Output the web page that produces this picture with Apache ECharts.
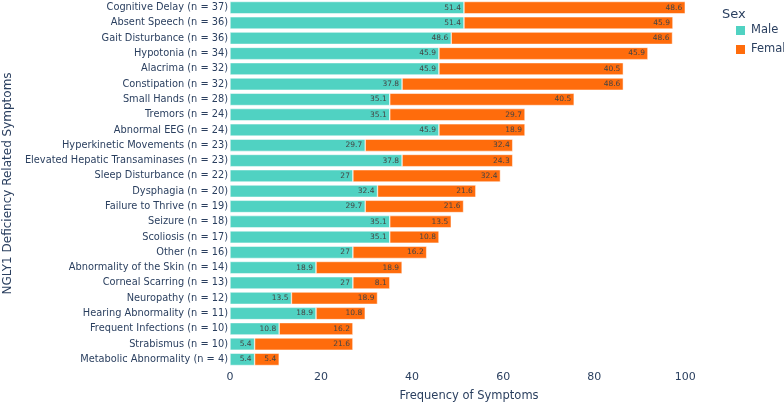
<!DOCTYPE html>
<html>
<head>
<meta charset="utf-8">
<script src="https://cdn.jsdelivr.net/npm/echarts@6/dist/echarts.min.js"></script>
<style>html,body{margin:0;padding:0;background:#fff;}#c{width:784px;height:402px;}</style>
</head>
<body>
<div id="c"></div>
<script>
const categories = [
  "Cognitive Delay (n = 37)", "Absent Speech (n = 36)", "Gait Disturbance (n = 36)",
  "Hypotonia (n = 34)", "Alacrima (n = 32)", "Constipation (n = 32)",
  "Small Hands (n = 28)", "Tremors (n = 24)", "Abnormal EEG (n = 24)",
  "Hyperkinetic Movements (n = 23)", "Elevated Hepatic Transaminases (n = 23)",
  "Sleep Disturbance (n = 22)", "Dysphagia (n = 20)", "Failure to Thrive (n = 19)",
  "Seizure (n = 18)", "Scoliosis (n = 17)", "Other (n = 16)",
  "Abnormality of the Skin (n = 14)", "Corneal Scarring (n = 13)",
  "Neuropathy (n = 12)", "Hearing Abnormality (n = 11)",
  "Frequent Infections (n = 10)", "Strabismus (n = 10)", "Metabolic Abnormality (n = 4)"
];
const male = [51.4, 51.4, 48.6, 45.9, 45.9, 37.8, 35.1, 35.1, 45.9, 29.7, 37.8, 27, 32.4, 29.7, 35.1, 35.1, 27, 18.9, 27, 13.5, 18.9, 10.8, 5.4, 5.4];
const female = [48.6, 45.9, 48.6, 45.9, 40.5, 48.6, 40.5, 29.7, 18.9, 32.4, 24.3, 32.4, 21.6, 21.6, 13.5, 10.8, 16.2, 18.9, 8.1, 18.9, 10.8, 16.2, 21.6, 5.4];
const xTicks = [0, 20, 40, 60, 80, 100];

const font = "'DejaVu Sans', Verdana, sans-serif";
const textColor = '#2a3f5f';
const chart = echarts.init(document.getElementById('c'), null, {renderer: 'canvas'});
const labelCfg = {show: true, position: 'insideRight', distance: 3, fontSize: 7.5, color: '#444', fontFamily: font};
chart.setOption({
  animation: false,
  textStyle: {fontFamily: font},
  title: {text: 'Sex', left: 717, top: 3, textStyle: {fontSize: 13, fontWeight: 'normal', color: textColor, fontFamily: font}},
  legend: {
    orient: 'vertical', left: 729, top: 19, itemWidth: 11, itemHeight: 11, itemGap: 6,
    icon: 'rect', textStyle: {fontSize: 11.5, color: textColor, fontFamily: font},
    data: ['Male', 'Female']
  },
  grid: {left: 230, right: 76, top: 0, bottom: 35, outerBoundsMode: 'none', containLabel: false},
  xAxis: {
    type: 'value', min: 0, max: 105, interval: 20,
    splitLine: {show: false}, axisLine: {show: false}, axisTick: {show: false},
    axisLabel: {fontSize: 11, color: textColor, margin: 5, fontFamily: font,
      formatter: v => xTicks.includes(v) ? String(v) : ''},
    name: 'Frequency of Symptoms', nameLocation: 'middle', nameGap: 23,
    nameTextStyle: {fontSize: 11.5, color: textColor, fontFamily: font}
  },
  yAxis: {
    type: 'category', inverse: true, data: categories,
    axisLine: {show: false}, axisTick: {show: false},
    axisLabel: {fontSize: 9.8, color: textColor, margin: 2, fontFamily: font},
    name: 'NGLY1 Deficiency Related Symptoms', nameLocation: 'middle', nameGap: 210, nameRotate: 90,
    nameTextStyle: {fontSize: 12, color: textColor, fontFamily: font}
  },
  series: [
    {name: 'Male', type: 'bar', stack: 's', data: male, barCategoryGap: '20%',
     itemStyle: {color: '#50d2c2', borderColor: '#fff', borderWidth: 0.5}, label: labelCfg},
    {name: 'Female', type: 'bar', stack: 's', data: female, barCategoryGap: '20%',
     itemStyle: {color: '#ff6c0c', borderColor: '#fff', borderWidth: 0.5}, label: labelCfg}
  ]
});
</script>
</body>
</html>
